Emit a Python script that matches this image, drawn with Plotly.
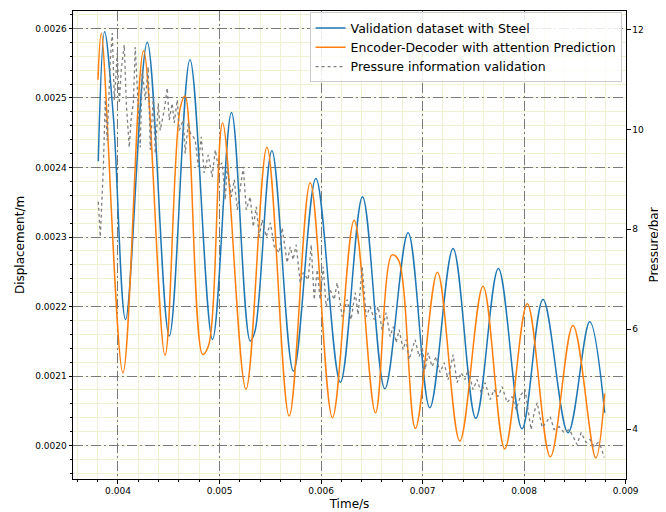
import plotly.graph_objects as go

# ---------------- data ----------------
time_steel = [0.003806, 0.003868, 0.003955, 0.004075, 0.004288, 0.004505, 0.004709, 0.004931,
              0.005118, 0.005302, 0.005350, 0.005516, 0.005728, 0.005949, 0.006190, 0.006408,
              0.006628, 0.006857, 0.007071, 0.007300, 0.007524, 0.007746, 0.007979, 0.008186,
              0.008432, 0.008646, 0.008793]
disp_steel = [0.002409, 0.002595, 0.002472, 0.0021815, 0.002580, 0.0021575, 0.002555, 0.0021527,
              0.002479, 0.0021503, 0.002165, 0.002424, 0.0021072, 0.002384, 0.002091, 0.002358,
              0.0020818, 0.002306, 0.0020545, 0.0022835, 0.0020392, 0.0022547, 0.0020243, 0.0022102,
              0.0020185, 0.002178, 0.0020473]

time_pred = [0.003803, 0.003836, 0.004049, 0.004252, 0.004463, 0.004612, 0.004662, 0.004833,
             0.004892, 0.005030, 0.005260, 0.005467, 0.005686, 0.005893, 0.006112, 0.006326,
             0.006536, 0.006697, 0.006762, 0.006929, 0.007146, 0.007366, 0.007595, 0.007809,
             0.008031, 0.008258, 0.008481, 0.008705, 0.008793]
disp_pred = [0.002526, 0.002593, 0.0021047, 0.002568, 0.002130, 0.002485, 0.0025027, 0.0021312,
             0.002144, 0.002464, 0.002081, 0.002429, 0.0020425, 0.002378, 0.0020402, 0.0023241,
             0.0020473, 0.002274, 0.002267, 0.0020249, 0.0022494, 0.0020066, 0.0022293, 0.0019955,
             0.0022039, 0.0019840, 0.0021728, 0.0019825, 0.0020751]

time_pressure = [
    0.003806, 0.003826, 0.003855, 0.003875, 0.003894, 0.003924, 0.003944, 0.003964, 0.003993, 0.004013,
    0.004032, 0.004062, 0.004082, 0.004111, 0.004131, 0.004151, 0.004170, 0.004190, 0.004219, 0.004239,
    0.004269, 0.004298, 0.004318, 0.004348, 0.004367, 0.004397, 0.004416, 0.004456, 0.004485, 0.004505,
    0.004534, 0.004554, 0.004584, 0.004603, 0.004643, 0.004662, 0.004692, 0.004712, 0.004761, 0.004790,
    0.004820, 0.004849, 0.004889, 0.004928, 0.004958, 0.004987, 0.005027, 0.005056, 0.005076, 0.005116,
    0.005145, 0.005175, 0.005204, 0.005234, 0.005263, 0.005302, 0.005332, 0.005362, 0.005391, 0.005421,
    0.005460, 0.005501, 0.005540, 0.005589, 0.005617, 0.005666, 0.005696, 0.005725, 0.005755, 0.005794,
    0.005824, 0.005873, 0.005903, 0.005932, 0.005962, 0.005991, 0.006021, 0.006050, 0.006089, 0.006129,
    0.006159, 0.006208, 0.006257, 0.006296, 0.006336, 0.006365, 0.006405, 0.006444, 0.006483, 0.006523,
    0.006562, 0.006601, 0.006641, 0.006680, 0.006710, 0.006739, 0.006769, 0.006808, 0.006838, 0.006867,
    0.006926, 0.006966, 0.006995, 0.007025, 0.007054, 0.007093, 0.007133, 0.007172, 0.007212, 0.007251,
    0.007300, 0.007340, 0.007379, 0.007418, 0.007448, 0.007497, 0.007537, 0.007576, 0.007615, 0.007665,
    0.007704, 0.007743, 0.007783, 0.007832, 0.007881, 0.007921, 0.007970, 0.008009, 0.008068, 0.008098,
    0.008128, 0.008177, 0.008216, 0.008256, 0.008295, 0.008344, 0.008393, 0.008443, 0.008482, 0.008521,
    0.008561, 0.008610, 0.008649, 0.008689, 0.008728, 0.008758, 0.008788]
pressure = [
    8.55, 7.85, 9.19, 10.59, 9.78, 11.39, 11.93, 10.59, 11.53, 10.52,
    11.19, 11.69, 10.52, 9.64, 10.25, 10.52, 11.65, 10.79, 9.64, 11.19,
    10.59, 11.25, 9.59, 10.65, 9.52, 10.52, 9.98, 10.39, 10.83, 10.19,
    10.52, 10.13, 10.59, 9.98, 10.19, 9.52, 10.13, 9.93, 9.79, 9.25,
    9.85, 9.13, 9.49, 9.05, 9.59, 9.25, 9.33, 8.59, 9.25, 8.65,
    8.99, 8.39, 8.79, 9.25, 8.39, 8.65, 8.05, 8.45, 7.85, 8.19,
    7.85, 8.13, 7.65, 7.53, 8.03, 7.33, 7.65, 7.39, 7.69, 6.93,
    7.13, 6.99, 7.69, 6.59, 7.19, 6.59, 7.25, 6.45, 6.79, 6.59,
    6.93, 6.25, 6.59, 6.19, 6.73, 6.29, 7.25, 6.25, 6.45, 6.19,
    6.45, 5.99, 6.33, 5.85, 6.05, 5.73, 5.99, 5.59, 5.79, 5.39,
    5.79, 5.45, 5.65, 5.19, 5.53, 5.25, 5.45, 5.13, 5.33, 4.99,
    5.49, 4.93, 5.13, 4.99, 5.19, 4.79, 4.99, 4.73, 4.93, 4.59,
    4.79, 4.65, 4.85, 4.53, 4.65, 4.39, 4.69, 4.79, 3.99, 4.33,
    4.53, 4.03, 4.13, 4.25, 3.99, 4.05, 3.93, 3.99, 3.85, 3.69,
    3.93, 3.73, 3.79, 3.65, 3.73, 3.63, 3.43]

x_ticks = [0.004, 0.005, 0.006, 0.007, 0.008, 0.009]
x_tick_text = ["0.004", "0.005", "0.006", "0.007", "0.008", "0.009"]
y_ticks = [0.0020, 0.0021, 0.0022, 0.0023, 0.0024, 0.0025, 0.0026]
y_tick_text = ["0.0020", "0.0021", "0.0022", "0.0023", "0.0024", "0.0025", "0.0026"]
y2_ticks = [4, 6, 8, 10, 12]

# ---------------- figure ----------------
FONT = "DejaVu Sans"
fig = go.Figure()

fig.add_trace(go.Scatter(
    x=time_steel, y=disp_steel, mode="lines", name="Validation dataset with Steel",
    line=dict(color="#1f77b4", width=1.5, shape="spline", smoothing=1.0)))
fig.add_trace(go.Scatter(
    x=time_pred, y=disp_pred, mode="lines", name="Encoder-Decoder with attention Prediction",
    line=dict(color="#ff7f0e", width=1.5, shape="spline", smoothing=1.0)))
fig.add_trace(go.Scatter(
    x=time_pressure, y=pressure, mode="lines", name="Pressure information validation",
    yaxis="y2", line=dict(color="#7f7f7f", width=1.3, dash="dot")))

minor_grid = "#f0f0d2"
major_grid = "#7a7a7a"
grid_dash = "10px,3px,2px,3px"

# the page body adds an 8px offset; size the figure to fill the rest of the window
fig.update_layout(
    width=658, height=504,
    margin=dict(l=65, r=40, t=3, b=33),
    paper_bgcolor="white", plot_bgcolor="white",
    font=dict(family=FONT, size=9, color="black"),
    showlegend=True,
    legend=dict(x=0.992, y=0.997, xanchor="right", yanchor="top",
                bgcolor="rgba(255,255,255,0.85)", bordercolor="#cccccc", borderwidth=1,
                font=dict(family=FONT, size=12.5, color="black"),
                tracegroupgap=0),
    xaxis=dict(
        range=[0.003557, 0.009003], tickmode="array", tickvals=x_ticks, ticktext=x_tick_text,
        automargin=False,
        showline=True, linecolor="black", linewidth=1, mirror=True,
        ticks="outside", ticklen=3.5, tickcolor="black", tickwidth=1,
        showgrid=True, gridcolor=major_grid, griddash=grid_dash, gridwidth=1.4,
        zeroline=False,
        minor=dict(dtick=0.0002, tick0=0.004, ticks="outside", ticklen=2, tickcolor="black",
                   showgrid=True, gridcolor=minor_grid, gridwidth=1, griddash="solid"),
        title=dict(text="Time/s", font=dict(family=FONT, size=12), standoff=4),
        tickfont=dict(family=FONT, size=9),
    ),
    yaxis=dict(
        range=[0.001952, 0.002625], tickmode="array", tickvals=y_ticks, ticktext=y_tick_text,
        automargin=False,
        showline=True, linecolor="black", linewidth=1, mirror=True,
        ticks="outside", ticklen=3.5, tickcolor="black", tickwidth=1,
        showgrid=True, gridcolor=major_grid, griddash=grid_dash, gridwidth=1.4,
        zeroline=False,
        minor=dict(dtick=0.00002, tick0=0.002, ticks="outside", ticklen=2, tickcolor="black",
                   showgrid=True, gridcolor=minor_grid, gridwidth=1, griddash="solid"),
        title=dict(text="Displacement/m", font=dict(family=FONT, size=12), standoff=8),
        tickfont=dict(family=FONT, size=9),
    ),
    yaxis2=dict(
        overlaying="y", side="right", range=[3.0, 12.37],
        tickmode="array", tickvals=y2_ticks, automargin=False,
        showline=True, linecolor="black", linewidth=1,
        ticks="outside", ticklen=3.5, tickcolor="black", tickwidth=1,
        showgrid=False, zeroline=False,
        title=dict(text="Pressure/bar", font=dict(family=FONT, size=12), standoff=6),
        tickfont=dict(family=FONT, size=9),
    ),
)

fig.write_html("out.html")
